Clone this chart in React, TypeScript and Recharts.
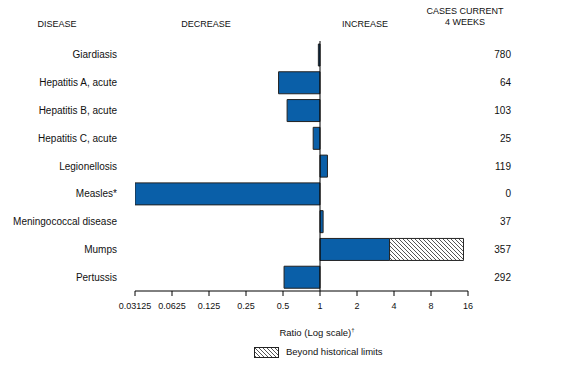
import { BarChart, Bar, XAxis, YAxis, ReferenceLine } from 'recharts';

const diseases = [
  'Giardiasis',
  'Hepatitis A, acute',
  'Hepatitis B, acute',
  'Hepatitis C, acute',
  'Legionellosis',
  'Measles*',
  'Meningococcal disease',
  'Mumps',
  'Pertussis',
];
const ratios = [0.97, 0.46, 0.54, 0.88, 1.15, 0.03125, 1.06, 3.68, 0.51];
const beyondLimits: (number | null)[] = [null, null, null, null, null, null, null, 14.7, null];
const cases = [780, 64, 103, 25, 119, 0, 37, 357, 292];
const xTicks = [0.03125, 0.0625, 0.125, 0.25, 0.5, 1, 2, 4, 8, 16];

const data = diseases.map((name, i) => ({
  name,
  ratio: ratios[i] < 1 ? [ratios[i], 1] : [1, ratios[i]],
  beyond: beyondLimits[i] == null ? null : [ratios[i], beyondLimits[i]],
}));

const FONT = 'Arial, "Liberation Sans", Helvetica, sans-serif';
const BLUE = '#0a5fa8';

function DiseaseTick(props: any) {
  return (
    <text x={117} y={props.y} dy={3.5} textAnchor="end" fontSize={10} fontFamily={FONT} fill="#111">
      {props.payload.value}
    </text>
  );
}

function CasesTick(props: any) {
  return (
    <text x={511} y={props.y} dy={3.5} textAnchor="end" fontSize={10} fontFamily={FONT} fill="#111">
      {cases[props.index]}
    </text>
  );
}

const txt = (left: number, top: number, s: string, size = 9, w = 120) => (
  <div style={{ position: 'absolute', left: left - w / 2, top, width: w, textAlign: 'center', fontSize: size, lineHeight: `${size + 2}px`, fontFamily: FONT, color: '#111' }}>
    {s}
  </div>
);

export default function App() {
  return (
    <div style={{ position: 'absolute', left: 0, top: 0, width: 571, height: 371, background: '#fff' }}>
      <BarChart width={571} height={371} data={data} layout="vertical" barSize={22}
        margin={{ top: 41, right: 0, bottom: 0, left: 0 }}>
        <defs>
          <pattern id="hatch" patternUnits="userSpaceOnUse" width="4" height="4">
            <rect width="4" height="4" fill="#fff" />
            <path d="M-1,-1 l2,2 M0,0 l4,4 M3,3 l2,2" stroke="#555" strokeWidth="1" />
          </pattern>
        </defs>
        <XAxis type="number" scale="log" domain={[0.03125, 16]} ticks={xTicks} allowDataOverflow
          height={80} tickSize={5} tickMargin={7} stroke="#000" tickFormatter={(v: number) => String(v)}
          tick={{ fontSize: 9, fontFamily: FONT, fill: '#111' }} />
        <YAxis yAxisId="left" type="category" dataKey="name" width={135}
          axisLine={false} tickLine={false} tick={DiseaseTick} />
        <YAxis yAxisId="right" orientation="right" type="category" dataKey="name" width={103}
          axisLine={false} tickLine={false} tick={CasesTick} />
        <Bar yAxisId="left" dataKey="ratio" fill={BLUE} stroke="#222" strokeWidth={1} isAnimationActive={false} />
        <Bar yAxisId="right" dataKey="beyond" fill="url(#hatch)" stroke="#222" strokeWidth={1} isAnimationActive={false} />
        <ReferenceLine yAxisId="left" x={1} stroke="#000" strokeWidth={1} />
      </BarChart>
      {txt(57, 19, 'DISEASE')}
      {txt(206, 19, 'DECREASE')}
      {txt(365, 19, 'INCREASE')}
      {txt(465, 6, 'CASES CURRENT')}
      {txt(465, 17, '4 WEEKS')}
      <div style={{ position: 'absolute', left: 267, top: 324, width: 100, textAlign: 'center', fontSize: 9.5, fontFamily: FONT, color: '#111', lineHeight: '12px' }}>
        Ratio (Log scale)<sup style={{ fontSize: 6 }}>†</sup>
      </div>
      <svg style={{ position: 'absolute', left: 254, top: 347 }} width={26} height={12}>
        <defs>
          <pattern id="hatch2" patternUnits="userSpaceOnUse" width="4" height="4">
            <rect width="4" height="4" fill="#fff" />
            <path d="M-1,-1 l2,2 M0,0 l4,4 M3,3 l2,2" stroke="#555" strokeWidth="1" />
          </pattern>
        </defs>
        <rect x={0.5} y={0.5} width={24} height={10} fill="url(#hatch2)" stroke="#222" />
      </svg>
      <div style={{ position: 'absolute', left: 286, top: 346, fontSize: 9.5, fontFamily: FONT, color: '#111', lineHeight: '12px', whiteSpace: 'nowrap' }}>
        Beyond historical limits
      </div>
    </div>
  );
}
